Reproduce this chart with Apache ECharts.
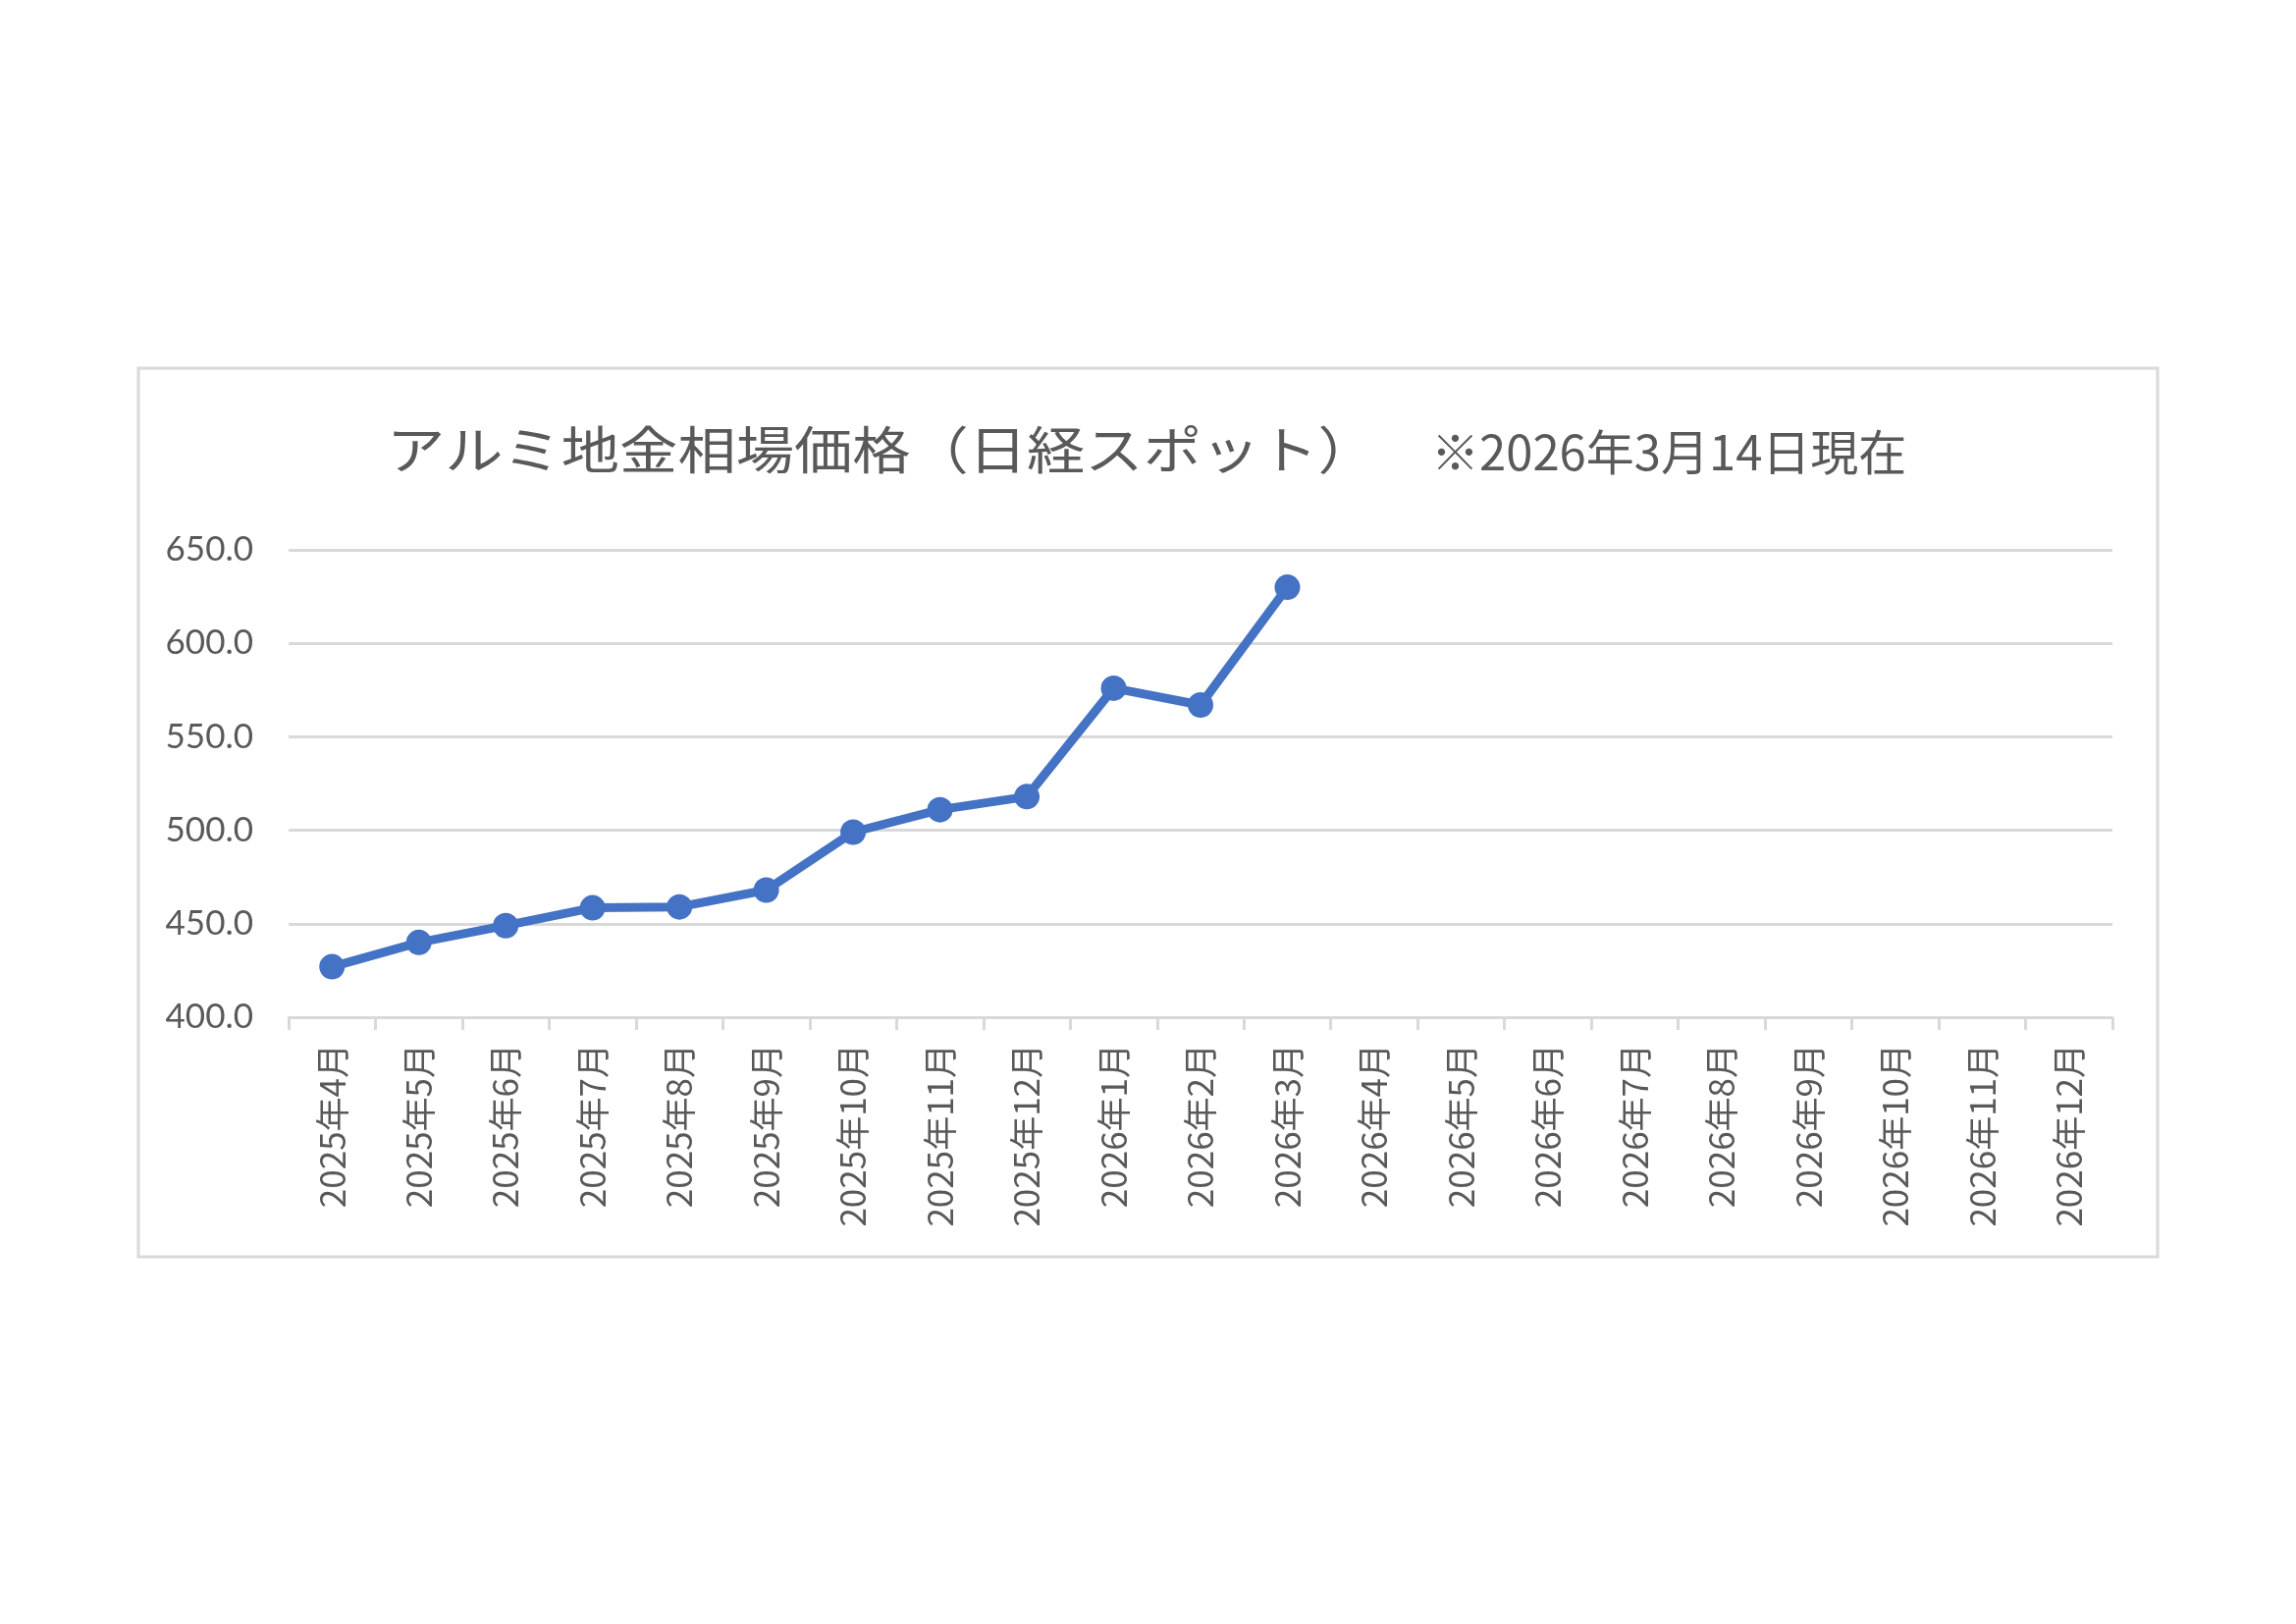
<!DOCTYPE html>
<html>
<head>
<meta charset="utf-8">
<script src="https://cdn.jsdelivr.net/npm/echarts@6/dist/echarts.min.js"></script>
<style>
html,body{margin:0;padding:0;background:#fff;}
#c{width:2339px;height:1654px;}
</style>
</head>
<body>
<div id="c"></div>
<script>
const titleText = 'アルミ地金相場価格（日経スポット）';
const noteText = '※2026年3月14日現在';
const categories = ['2025年4月','2025年5月','2025年6月','2025年7月','2025年8月','2025年9月','2025年10月','2025年11月','2025年12月','2026年1月','2026年2月','2026年3月','2026年4月','2026年5月','2026年6月','2026年7月','2026年8月','2026年9月','2026年10月','2026年11月','2026年12月'];
const prices = [427, 440, 449, 458.5, 459, 468, 499, 511, 518, 576, 567, 630];
const yTicks = [400, 450, 500, 550, 600, 650];

const chart = echarts.init(document.getElementById('c'));
chart.setOption({
  backgroundColor: '#ffffff',
  animation: false,
  graphic: [{
    type: 'rect',
    shape: {x: 141, y: 375, width: 2057, height: 905},
    style: {fill: 'none', stroke: '#D9D9D9', lineWidth: 3},
    silent: true
  }, {
    type: 'text',
    x: 394,
    y: 458,
    scaleX: 1.14,
    style: {text: titleText, fontFamily: 'Noto Sans CJK JP', fontSize: 52, fontWeight: 'normal', fill: '#595959', textVerticalAlign: 'middle', verticalAlign: 'middle'},
    silent: true
  }, {
    type: 'text',
    x: 1458,
    y: 460,
    style: {text: noteText, fontFamily: 'Noto Sans CJK JP', fontSize: 49, fontWeight: 'normal', fill: '#595959', textVerticalAlign: 'middle', verticalAlign: 'middle'},
    silent: true
  }],
  grid: {left: 294, right: 187, top: 560, height: 476},
  xAxis: {
    type: 'category',
    data: categories,
    boundaryGap: true,
    axisLine: {lineStyle: {color: '#D9D9D9', width: 3}},
    axisTick: {show: true, length: 13, lineStyle: {color: '#D9D9D9', width: 3}},
    axisLabel: {rotate: 90, interval: 0, margin: 27, color: '#595959', fontFamily: 'Noto Sans CJK JP', fontSize: 35}
  },
  yAxis: {
    type: 'value',
    min: yTicks[0],
    max: yTicks[yTicks.length - 1],
    interval: 50,
    axisLine: {show: false},
    axisTick: {show: false},
    splitLine: {lineStyle: {color: '#D9D9D9', width: 3}},
    axisLabel: {margin: 36, color: '#595959', fontFamily: 'Lato', fontSize: 35, formatter: v => v.toFixed(1)}
  },
  series: [{
    type: 'line',
    data: prices,
    symbol: 'circle',
    symbolSize: 26,
    lineStyle: {color: '#4472C4', width: 9},
    itemStyle: {color: '#4472C4'}
  }]
});
</script>
</body>
</html>
